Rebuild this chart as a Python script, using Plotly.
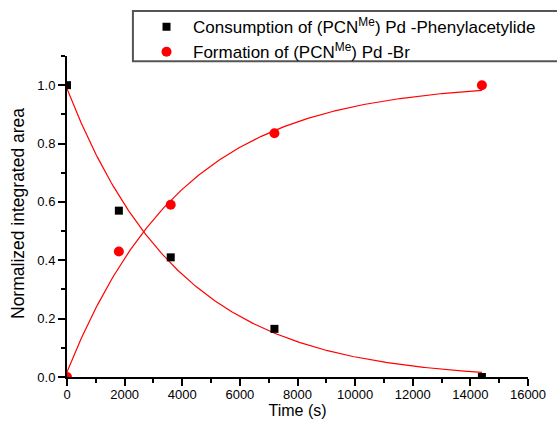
import numpy as np
import plotly.graph_objects as go

# Data
time_s = [0, 1800, 3600, 7200, 14400]
consumption = [1.0, 0.57, 0.41, 0.165, 0.0]
formation = [0.0, 0.43, 0.59, 0.835, 1.0]

# Exponential fit parameters (as drawn in the reference)
decay_A, decay_tau, decay_y0 = 0.998, 3937.0, -0.010
growth_y0, growth_A, growth_tau = 0.017, 0.993, 4016.0

t_fit = np.linspace(0, 14400, 300)
decay_fit = decay_A * np.exp(-t_fit / decay_tau) + decay_y0
growth_fit = growth_y0 + growth_A * (1 - np.exp(-t_fit / growth_tau))

FONT = "Liberation Sans, Arial, sans-serif"

fig = go.Figure()
fig.add_trace(go.Scatter(x=t_fit, y=decay_fit, mode="lines",
                         line=dict(color="#ff0000", width=1.2), showlegend=False))
fig.add_trace(go.Scatter(x=t_fit, y=growth_fit, mode="lines",
                         line=dict(color="#ff0000", width=1.2), showlegend=False))
fig.add_trace(go.Scatter(x=time_s, y=consumption, mode="markers",
                         name="Consumption of (PCN<sup>Me</sup>) Pd -Phenylacetylide",
                         marker=dict(symbol="square", size=8, color="black")))
fig.add_trace(go.Scatter(x=time_s, y=formation, mode="markers",
                         name="Formation of (PCN<sup>Me</sup>) Pd -Br",
                         marker=dict(symbol="circle", size=10, color="#ff0000")))

axis_common = dict(showline=True, linecolor="black", linewidth=2, mirror=False,
                   ticks="outside", tickcolor="black", tickwidth=1.5, ticklen=7,
                   showgrid=False, zeroline=False,
                   tickfont=dict(family=FONT, size=13, color="black"))

fig.update_xaxes(range=[0, 16000], dtick=2000, tick0=0, tickformat="d",
                 ticklabelstandoff=-3,
                 minor=dict(ticks="outside", dtick=1000, ticklen=4, tickwidth=1.5, tickcolor="black"),
                 title=dict(text="Time (s)", font=dict(family=FONT, size=16, color="black"), standoff=2),
                 **axis_common)
fig.update_yaxes(range=[0, 1.1], dtick=0.2, tick0=0, tickformat=".1f",
                 minor=dict(ticks="outside", dtick=0.1, ticklen=4, tickwidth=1.5, tickcolor="black"),
                 **axis_common)

# y-axis title
fig.add_annotation(text="Normalized integrated area", textangle=-90,
                   xref="paper", yref="paper", x=(18 - 67) / 461, y=(377 - 214) / 321,
                   xanchor="center", yanchor="middle", showarrow=False,
                   font=dict(family=FONT, size=17.5, color="black"))

# legend frame (extends past the right edge as in the reference)
fig.add_shape(type="rect", xref="paper", yref="paper", x0=0.143, x1=1.3, y0=0.984, y1=1.14,
              line=dict(color="#555555", width=2), fillcolor="white", layer="below")

fig.update_layout(
    width=557, height=425,
    margin=dict(l=67, r=29, t=56, b=48, autoexpand=False),
    paper_bgcolor="white", plot_bgcolor="white",
    font=dict(family=FONT, color="black"),
    legend=dict(x=0.1584, y=1.146, xanchor="left", yanchor="top",
                bgcolor="rgba(0,0,0,0)", borderwidth=0, itemwidth=43,
                font=dict(family=FONT, size=17, color="black"),
                tracegroupgap=0, itemsizing="trace"),
)

fig.write_html("out.html")
